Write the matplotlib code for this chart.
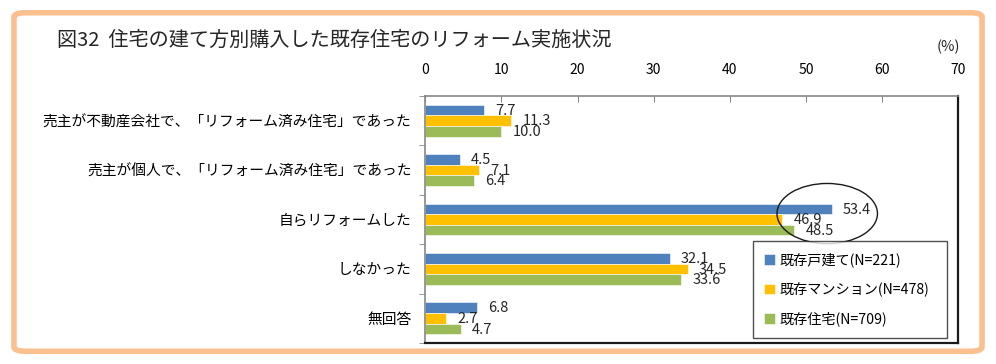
import matplotlib.pyplot as plt
from matplotlib.patches import Ellipse, FancyBboxPatch
import numpy as np

plt.rcParams['font.family'] = ['Noto Sans CJK JP', 'DejaVu Sans']

# data
categories = ['売主が不動産会社で、「リフォーム済み住宅」であった',
              '売主が個人で、「リフォーム済み住宅」であった',
              '自らリフォームした',
              'しなかった',
              '無回答']
series_names = ['既存戸建て(N=221)', '既存マンション(N=478)', '既存住宅(N=709)']
detached = [7.7, 4.5, 53.4, 32.1, 6.8]
condo = [11.3, 7.1, 46.9, 34.5, 2.7]
total = [10.0, 6.4, 48.5, 33.6, 4.7]
colors = ['#4F81BD', '#FFC000', '#9BBB59']
xticks = [0, 10, 20, 30, 40, 50, 60, 70]

fig = plt.figure(figsize=(9.96, 3.64), dpi=100)

# orange frame around the whole chart
frame = FancyBboxPatch((0.014, 0.035), 0.972, 0.93, boxstyle='round,pad=0,rounding_size=0.012',
                       transform=fig.transFigure, facecolor='white', edgecolor='#FAC08F',
                       linewidth=4, zorder=-10)
fig.patches.append(frame)

ax = fig.add_axes([0.427, 0.058, 0.535, 0.678])
ax.set_facecolor('none')

y = np.arange(len(categories))
h = 0.215
for i, (vals, col) in enumerate(zip([detached, condo, total], colors)):
    pos = y + (i - 1) * h
    ax.barh(pos, vals, height=h, color=col, edgecolor='white', linewidth=0.4,
            label=series_names[i])
    for p, v in zip(pos, vals):
        ax.annotate(f'{v:.1f}', (v, p), xytext=(8, -0.5), textcoords='offset points',
                    va='center', ha='left', fontsize=10.5, color='#262626')

ax.set_xlim(0, 70)
ax.set_ylim(len(categories) - 0.5, -0.5)
ax.xaxis.tick_top()
ax.set_xticks(xticks)
ax.tick_params(axis='x', direction='in', length=4, pad=14, labelsize=10, color='#868686')
ax.set_yticks(y)
ax.set_yticklabels(categories, fontsize=10.6)
ax.tick_params(axis='y', length=0, pad=10)
ax.set_yticks(np.arange(-0.5, len(categories), 1), minor=True)
ax.tick_params(axis='y', which='minor', length=4, color='#868686')

for s in ['left', 'top']:
    ax.spines[s].set_color('#868686')
    ax.spines[s].set_linewidth(1.2)
for s in ['right', 'bottom']:
    ax.spines[s].set_color('#1a1a1a')
    ax.spines[s].set_linewidth(1.6)

# ellipse highlighting the reform group
idx = 2
ell = Ellipse((max(detached[idx], condo[idx], total[idx]) - 0.6, idx - 0.12),
              width=13.2, height=1.22, fill=False, edgecolor='#1a1a1a', linewidth=1.0,
              transform=ax.transData, zorder=5, clip_on=False)
ax.add_patch(ell)

leg = ax.legend(loc='lower left', bbox_to_anchor=(0.615, 0.02, 0.364, 0.373), mode='expand',
                borderaxespad=0, fontsize=10.2, frameon=True, fancybox=False,
                edgecolor='#262626', handlelength=0.75, handleheight=0.75, handletextpad=0.3,
                labelspacing=1.05, borderpad=0.8)
leg.get_frame().set_linewidth(1.0)

fig.text(0.057, 0.89, '図32  住宅の建て方別購入した既存住宅のリフォーム実施状況',
         fontsize=14.5, ha='left', va='center', color='#262626')
fig.text(0.940, 0.87, '(%)', fontsize=10.5, ha='left', va='center', color='#262626')

fig.savefig('out.png', dpi=100)
